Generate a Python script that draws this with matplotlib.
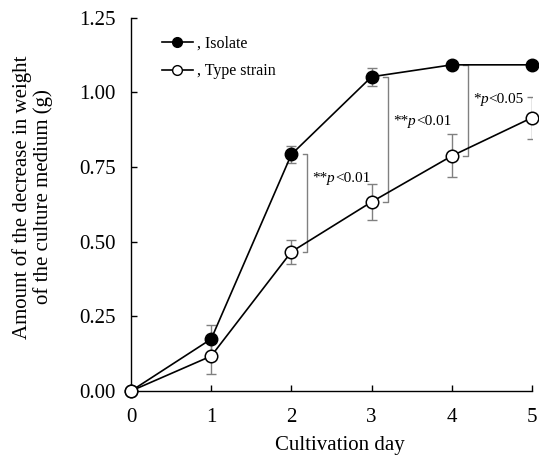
import matplotlib
matplotlib.use("Agg")
import matplotlib.pyplot as plt
from matplotlib.lines import Line2D
from matplotlib.transforms import offset_copy

plt.rcParams['font.family'] = ['Liberation Serif', 'DejaVu Serif']

days = [0, 1, 2, 3, 4, 5]
isolate = [0.0, 0.174, 0.792, 1.052, 1.092, 1.092]
isolate_err = [0.0, 0.048, 0.027, 0.030, 0.0, 0.0]
type_strain = [0.0, 0.117, 0.466, 0.633, 0.787, 0.915]
type_err = [0.0, 0.060, 0.040, 0.060, 0.072, 0.070]
sig_days = [2, 3, 4]
sig_stars = ["**", "**", "*"]
sig_p = ["<0.01", "<0.01", "<0.05"]
sig_text_pos = [(2.257, 0.700), (3.267, 0.891), (4.264, 0.965)]
yticks = [0.0, 0.25, 0.5, 0.75, 1.0, 1.25]

fig = plt.figure(figsize=(5.39, 4.57), dpi=100)
ax = fig.add_axes([0.243, 0.1444, 0.744, 0.817])

fs = 15
ax.errorbar(days, type_strain, yerr=type_err, fmt='none', ecolor='#808080',
            elinewidth=1, capsize=3.5, capthick=1, zorder=1)
ax.errorbar(days, isolate, yerr=isolate_err, fmt='none', ecolor='#808080',
            elinewidth=1, capsize=3.5, capthick=1, zorder=1)
ax.plot(days, isolate, '-o', color='black', mfc='black', mec='black', ms=9,
        lw=1.2, clip_on=False, zorder=3)
ax.plot(days, type_strain, '-o', color='black', mfc='white', mec='black', ms=9,
        mew=1.1, lw=1.2, clip_on=False, zorder=3)

# significance brackets
for d in sig_days:
    i = days.index(d)
    xb = d + 0.2
    top = isolate[i]
    bot = type_strain[i]
    ax.plot([xb - 0.06, xb, xb, xb - 0.06], [top, top, bot, bot],
            color='#808080', lw=1, zorder=2)

fig.canvas.draw()
renderer = fig.canvas.get_renderer()
for (tx, ty), star, p in zip(sig_text_pos, sig_stars, sig_p):
    trans = ax.transData
    for piece, style in [(star, 'normal'), ('p', 'italic'), (p, 'normal')]:
        t = ax.text(tx, ty, piece, fontsize=11, fontstyle=style, ha='left',
                    va='baseline', transform=trans)
        bb = t.get_window_extent(renderer=renderer)
        trans = offset_copy(trans, fig=fig, x=bb.width * 72 / fig.dpi, y=0, units='points')

ax.set_xlim(0, 5)
ax.set_ylim(0, 1.25)
ax.set_xticks(days)
ax.set_yticks(yticks)
ax.set_yticklabels([f"{t:.2f}" for t in yticks])
ax.tick_params(direction='in', length=4, labelsize=fs, width=1)
ax.tick_params(axis='y', pad=11)
ax.tick_params(axis='x', pad=12)
for s in ['left', 'bottom']:
    ax.spines[s].set_linewidth(1)
ax.spines['top'].set_visible(False)
ax.spines['right'].set_visible(False)
ax.set_xlabel("Cultivation day", fontsize=fs)
ax.xaxis.set_label_coords(0.52, -0.12)
ax.set_ylabel("Amount of the decrease in weight\nof the culture medium (g)",
              fontsize=fs, linespacing=1.05)
ax.yaxis.set_label_coords(-0.195, 0.52)

h1 = Line2D([], [], color='black', marker='o', mfc='black', mec='black', ms=7, lw=1.2)
h2 = Line2D([], [], color='black', marker='o', mfc='white', mec='black', ms=7, lw=1.2)
ax.legend([h1, h2], [", Isolate", ", Type strain"], loc='upper left',
          bbox_to_anchor=(0.077, 0.952), frameon=False, fontsize=11.5,
          handlelength=1.95, handletextpad=0.25, labelspacing=0.73,
          borderpad=0, borderaxespad=0)

fig.savefig("out.png", dpi=100)
